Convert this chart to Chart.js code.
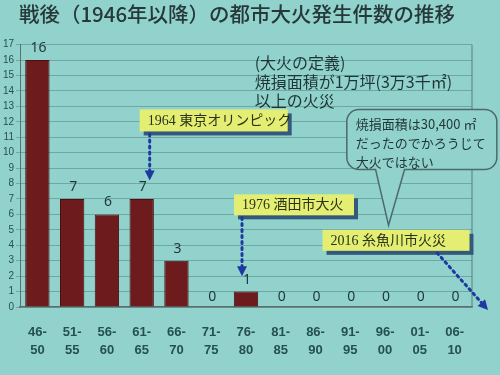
<!DOCTYPE html>
<html>
<head>
<meta charset="utf-8">
<script src="https://cdn.jsdelivr.net/npm/chart.js@4.4.1/dist/chart.umd.min.js"></script>
<style>
  html, body { margin: 0; padding: 0; background: #92d2cd; }
  #wrap { width: 500px; height: 375px; }
</style>
</head>
<body>
<div id="wrap"><canvas id="chart" width="500" height="375"></canvas></div>
<script>
// data
const periods = [['46-','50'],['51-','55'],['56-','60'],['61-','65'],['66-','70'],['71-','75'],['76-','80'],
                 ['81-','85'],['86-','90'],['91-','95'],['96-','00'],['01-','05'],['06-','10']];
const fires = [16, 7, 6, 7, 3, 0, 1, 0, 0, 0, 0, 0, 0];
const yMax = 17;
const titleText = '戦後（1946年以降）の都市大火発生件数の推移';
const definitionLines = ['(大火の定義)', '焼損面積が1万坪(3万3千㎡)', '以上の火災'];
const bubbleLines = ['焼損面積は30,400 ㎡', 'だったのでかろうじて', '大火ではない'];
const eventLabels = ['1964 東京オリンピック', '1976 酒田市大火', '2016 糸魚川市火災'];

const bg = '#92d2cd';
const ink = '#1f3636';

function arrow(ctx, x1, y1, x2, y2) {
    ctx.save();
    ctx.strokeStyle = '#1d3aa0';
    ctx.fillStyle = '#1d3aa0';
    ctx.lineWidth = 3;
    ctx.setLineDash([2, 4]);
    ctx.lineCap = 'round';
    const a = Math.atan2(y2 - y1, x2 - x1);
    ctx.beginPath();
    ctx.moveTo(x1, y1);
    ctx.lineTo(x2 - 8 * Math.cos(a), y2 - 8 * Math.sin(a));
    ctx.stroke();
    ctx.setLineDash([]);
    ctx.beginPath();
    ctx.moveTo(x2, y2);
    ctx.lineTo(x2 - 10 * Math.cos(a) + 5 * Math.sin(a), y2 - 10 * Math.sin(a) - 5 * Math.cos(a));
    ctx.lineTo(x2 - 10 * Math.cos(a) - 5 * Math.sin(a), y2 - 10 * Math.sin(a) + 5 * Math.cos(a));
    ctx.closePath();
    ctx.fill();
    ctx.restore();
}

function noteBox(ctx, text, x, y, w, h) {
    ctx.save();
    ctx.fillStyle = '#35597a';
    ctx.fillRect(x + 4, y + 4, w, h);
    ctx.fillStyle = '#e4ee72';
    ctx.fillRect(x, y, w, h);
    ctx.fillStyle = '#2a3318';
    ctx.font = '14px "Liberation Serif", "Noto Sans CJK JP"';
    ctx.textBaseline = 'middle';
    ctx.fillText(text, x + 8, y + h / 2 + 1);
    ctx.restore();
}

const extras = {
    id: 'extras',
    beforeDatasetsDraw(chart) {
        const {ctx, chartArea: a} = chart;
        ctx.save();
        ctx.strokeStyle = '#5d7c7c';
        ctx.lineWidth = 1;
        ctx.beginPath();
        ctx.moveTo(a.right, a.top);
        ctx.lineTo(a.right, a.bottom);
        ctx.stroke();
        ctx.restore();
    },
    afterDatasetsDraw(chart) {
        const ctx = chart.ctx;
        const meta = chart.getDatasetMeta(0);
        ctx.save();
        ctx.fillStyle = ink;
        ctx.font = '14px "Noto Sans", sans-serif';
        ctx.textAlign = 'center';
        ctx.textBaseline = 'bottom';
        meta.data.forEach((bar, i) => {
            ctx.fillText(String(fires[i]), bar.x + 1, bar.y - (fires[i] ? 5 : 3));
        });
        ctx.restore();
    },
    afterDraw(chart) {
        const ctx = chart.ctx;
        const x = chart.scales.x, y = chart.scales.y;

        // definition text
        ctx.save();
        ctx.fillStyle = ink;
        ctx.font = '16px "Noto Sans CJK JP"';
        ctx.textBaseline = 'middle';
        definitionLines.forEach((t, i) => ctx.fillText(t, x.getPixelForValue(6.25), y.getPixelForValue(15.8) + i * 19));
        ctx.restore();

        // 1964
        const x64 = x.getPixelForValue(3) + 8;
        noteBox(ctx, eventLabels[0], x64 - 10, y.getPixelForValue(12.8), 148, 22);
        arrow(ctx, x64, y.getPixelForValue(11.2), x64, y.getPixelForValue(8.2));

        // 1976
        const x76 = x.getPixelForValue(6) - 4;
        noteBox(ctx, eventLabels[1], x76 - 8, y.getPixelForValue(7.3), 120, 21);
        arrow(ctx, x76, y.getPixelForValue(5.8), x76, y.getPixelForValue(2.0));

        // 2016
        noteBox(ctx, eventLabels[2], x.getPixelForValue(8.2), y.getPixelForValue(5.0), 147, 21);
        arrow(ctx, x.getPixelForValue(11.5), y.getPixelForValue(3.5), x.right + 16, y.getPixelForValue(-0.2));

        // speech bubble
        const bx = x.getPixelForValue(8.9), by = y.getPixelForValue(12.8), bw = 150, bh = 60, r = 12;
        const tip = {x: x.getPixelForValue(10.1), y: y.getPixelForValue(5.3)};
        ctx.save();
        ctx.beginPath();
        ctx.moveTo(bx + r, by);
        ctx.arcTo(bx + bw, by, bx + bw, by + bh, r);
        ctx.arcTo(bx + bw, by + bh, bx, by + bh, r);
        ctx.lineTo(tip.x + 16, by + bh);
        ctx.lineTo(tip.x, tip.y);
        ctx.lineTo(tip.x - 13, by + bh);
        ctx.arcTo(bx, by + bh, bx, by, r);
        ctx.arcTo(bx, by, bx + bw, by, r);
        ctx.closePath();
        ctx.fillStyle = bg;
        ctx.fill();
        ctx.strokeStyle = '#4c6a6a';
        ctx.lineWidth = 1.5;
        ctx.stroke();
        ctx.fillStyle = ink;
        ctx.font = '13px "Noto Sans CJK JP"';
        ctx.textBaseline = 'middle';
        bubbleLines.forEach((t, i) => ctx.fillText(t, bx + 9, by + 15 + i * 19));
        ctx.restore();
    }
};

new Chart(document.getElementById('chart'), {
    type: 'bar',
    data: {
        labels: periods,
        datasets: [{
            data: fires,
            backgroundColor: '#6d1b1c',
            borderColor: '#4a1010',
            borderWidth: 1,
            barPercentage: 0.7,
            categoryPercentage: 1.0
        }]
    },
    options: {
        responsive: false,
        animation: false,
        layout: { padding: { left: 2, right: 28, top: 0, bottom: 0 } },
        plugins: {
            legend: { display: false },
            tooltip: { enabled: false },
            title: {
                display: true,
                text: titleText,
                color: '#263838',
                font: { family: '"Noto Sans CJK JP"', size: 20.5, weight: '500' },
                padding: { top: 2, bottom: 18 }
            }
        },
        scales: {
            x: {
                grid: { display: false },
                border: { color: '#5a6e6e', width: 1.5 },
                afterFit(scale) { scale.height = 68; },
                ticks: {
                    color: '#255050',
                    font: { family: 'Arial, "Liberation Sans"', size: 13, weight: 'bold', lineHeight: 1.4 },
                    padding: 8,
                    maxRotation: 0,
                    autoSkip: false
                }
            },
            y: {
                min: 0,
                max: yMax,
                afterFit(scale) { scale.width = 18; },
                grid: { color: 'rgba(70,115,115,0.45)', tickLength: 4 },
                border: { color: '#5a6e6e' },
                ticks: {
                    stepSize: 1,
                    autoSkip: false,
                    color: '#255050',
                    font: { family: 'Arial, "Liberation Sans"', size: 10 },
                    padding: 2
                }
            }
        }
    },
    plugins: [extras]
});
</script>
</body>
</html>
